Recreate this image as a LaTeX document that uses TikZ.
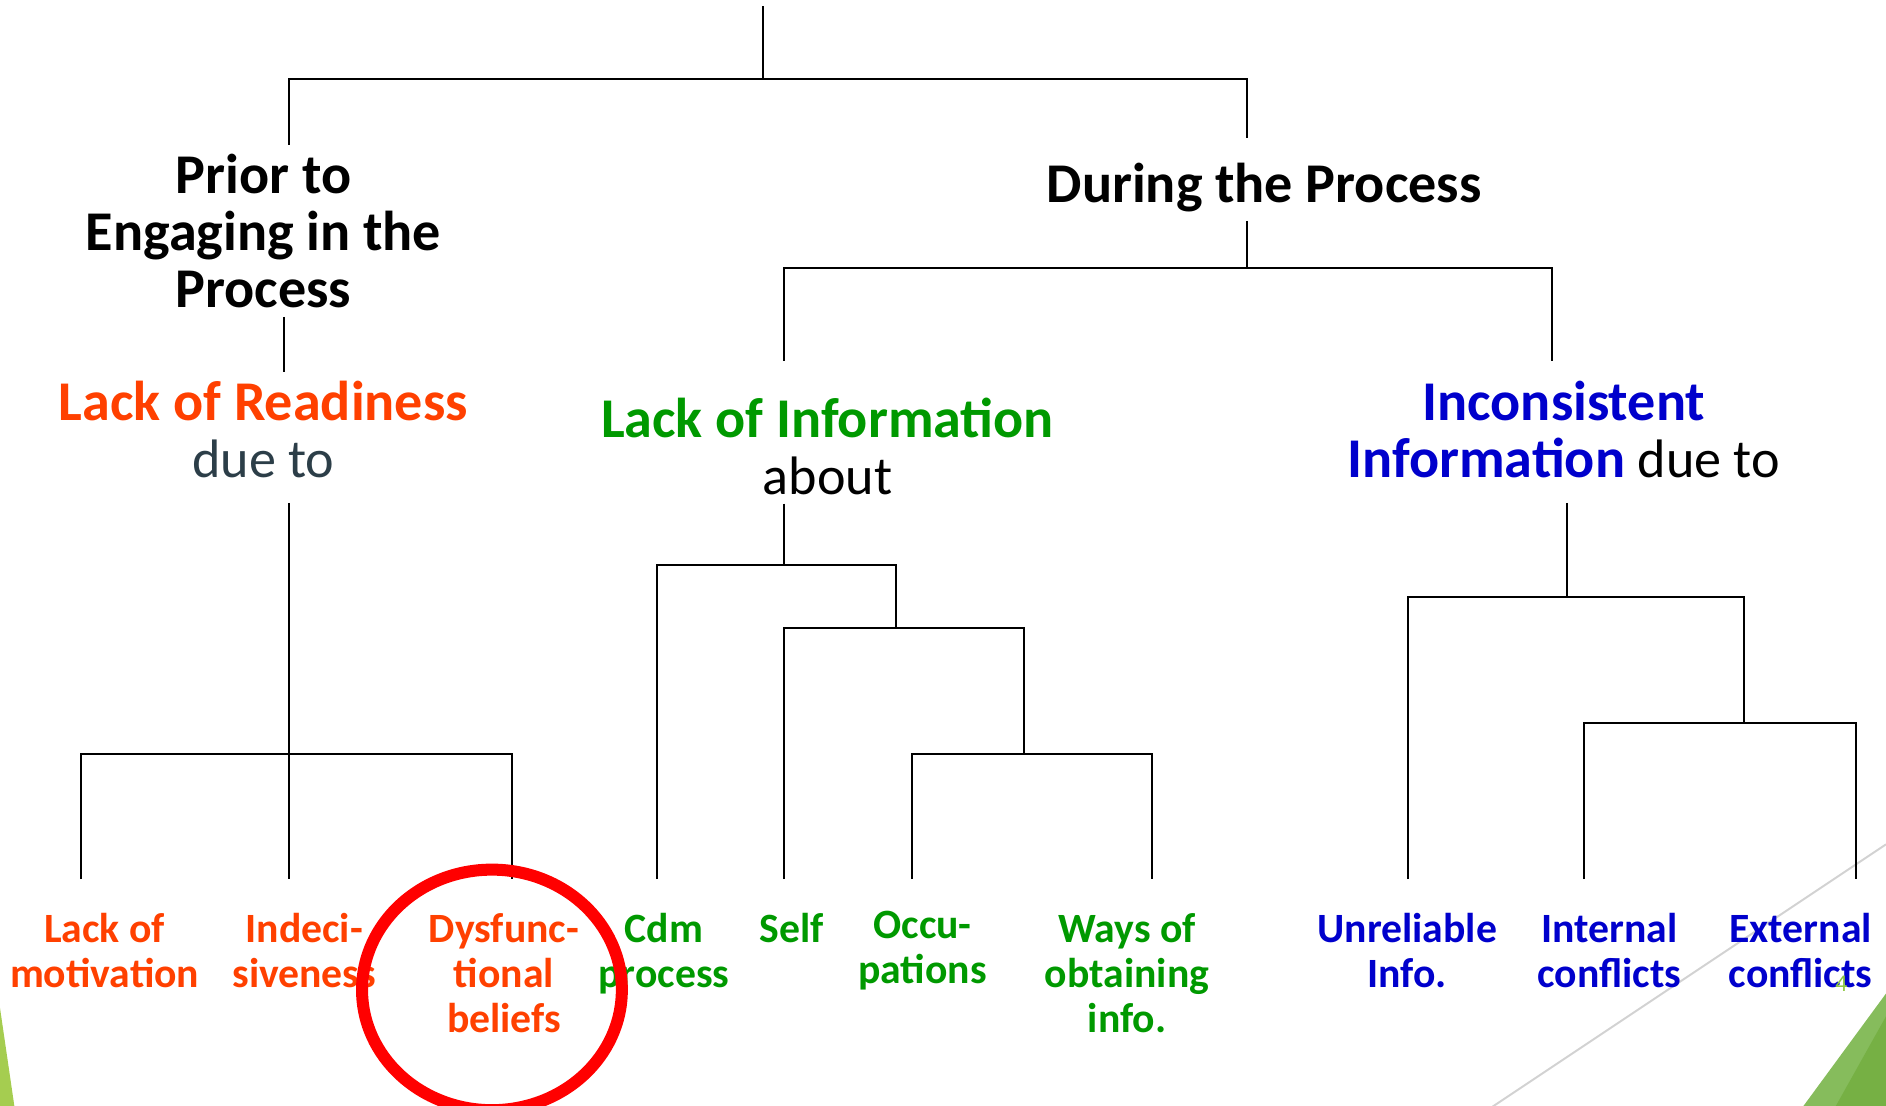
\documentclass[tikz,border=0pt]{standalone}
\usepackage{fontspec}
\setmainfont{Carlito}
\usetikzlibrary{positioning}
\definecolor{readyred}{RGB}{255,64,0}
\definecolor{infogreen}{RGB}{0,153,0}
\definecolor{infoblue}{RGB}{0,0,204}
\definecolor{slate}{RGB}{44,62,72}
\definecolor{pagegreen}{RGB}{141,198,63}
\definecolor{facetlight}{RGB}{165,205,80}
\definecolor{facetmid}{RGB}{134,188,92}
\definecolor{facetdark}{RGB}{118,176,68}
\newcommand{\lightword}[1]{{\fontsize{13.5}{14.3}\selectfont\mdseries #1}}
\tikzset{
  heading/.style={align=center,inner sep=2pt,
                  font=\fontsize{14}{14.3}\selectfont\bfseries},
  leaf/.style={align=center,anchor=north,inner sep=2pt,
               font=\fontsize{10.4}{11.25}\selectfont\bfseries},
  readyleaf/.style={leaf,text=readyred},
  infoleaf/.style={leaf,text=infogreen},
  conleaf/.style={leaf,text=infoblue},
  branch/.style={line width=0.5pt,draw=black},
  highlight/.style={draw=red,line width=3pt},
  pagenum/.style={font=\fontsize{6}{7}\selectfont,text=pagegreen,inner sep=0pt},
}
\begin{document}
\begin{tikzpicture}[x=0.3pt,y=-0.3pt]
  \useasboundingbox (0,0) rectangle (1568,919.5);
  % slide decoration
  \fill[facetlight] (0,838) -- (12,920) -- (0,920) -- cycle;
  \draw[gray!35,line width=0.5pt] (1241,920) -- (1568,702);
  \fill[facetmid] (1499,920) -- (1568,826) -- (1568,920) -- cycle;
  \fill[facetdark] (1526,920) -- (1568,845) -- (1568,920) -- cycle;

  % headings
  \node[heading] (prior)  at (219,192)  {Prior to\\Engaging in the\\Process};
  \node[heading] (during) at (1051,156) {During the Process};
  \node[heading] (rdy)    at (219,357)
    {{\color{readyred}Lack of Readiness}\\\lightword{\color{slate}due to}};
  \node[heading] (linfo)  at (688,371)
    {{\color{infogreen}Lack of Information}\\\lightword{about}};
  \node[heading] (incons) at (1300,357)
    {{\color{infoblue}Inconsistent}\\{\color{infoblue}Information} \lightword{due to}};

  % leaves
  \node[readyleaf] (motiv)  at (87,752)   {Lack of\\motivation};
  \node[readyleaf] (indec)  at (253,752)  {Indeci-\\siveness};
  \node[readyleaf] (dysf)   at (419,752)  {Dysfunc-\\tional\\beliefs};
  \node[infoleaf]  (cdm)    at (552,752)  {Cdm\\process};
  \node[infoleaf]  (self)   at (658,752)  {Self};
  \node[infoleaf]  (occu)   at (767,750)  {Occu-\\pations};
  \node[infoleaf]  (ways)   at (937,752)  {Ways of\\obtaining\\info.};
  \node[conleaf]   (unrel)  at (1170,752) {Unreliable\\Info.};
  \node[conleaf]   (intern) at (1338,752) {Internal\\conflicts};
  \node[conleaf]   (extern) at (1497,752) {External\\conflicts};
  \node[pagenum]   (pnum)   at (1531,818) {4};

  % branch points
  \coordinate (root)     at (634,5);
  \coordinate (rootbar)  at (634,66);
  \coordinate (pl)       at (240,66);
  \coordinate (pr)       at (1037,66);
  \coordinate (pd)       at (236,0);
  \coordinate (rbar)     at (240,627);
  \coordinate (dbar)     at (1037,223);
  \coordinate (linfo-t)  at (652,300);
  \coordinate (incons-t) at (1290,300);
  \coordinate (lbar)     at (652,470);
  \coordinate (sub1)     at (745,522);
  \coordinate (sub2)     at (851,627);
  \coordinate (ibar)     at (1303,496);
  \coordinate (isub)     at (1450,601);
  % stems above the leaves
  \coordinate (motiv-s)  at (67,731);
  \coordinate (indec-s)  at (240,731);
  \coordinate (dysf-s)   at (426,731);
  \coordinate (cdm-s)    at (546,731);
  \coordinate (self-s)   at (652,731);
  \coordinate (occu-s)   at (758,731);
  \coordinate (ways-s)   at (958,731);
  \coordinate (unrel-s)  at (1171,731);
  \coordinate (intern-s) at (1317,731);
  \coordinate (extern-s) at (1543,731);

  % branches
  \draw[branch] (root) -- (rootbar);
  \draw[branch,shorten >=4pt] (prior.north -| pl) |- (pr) -- (during.north -| pr);
  \draw[branch] (prior.south -| pd) -- (rdy.north -| pd);
  \draw[branch,shorten <=4pt] (rdy.south -| rbar) -- (indec-s);
  \draw[branch] (motiv-s) |- (rbar) -| (dysf-s);
  \draw[branch] (during.south -| pr) -- (dbar);
  \draw[branch] (linfo-t) |- (dbar) -| (incons-t);
  \draw[branch] (linfo.south -| lbar) -- (lbar);
  \draw[branch] (cdm-s) |- (lbar) -| (sub1);
  \draw[branch] (self-s) |- (sub1) -| (sub2);
  \draw[branch] (occu-s) |- (sub2) -| (ways-s);
  \draw[branch,shorten <=4pt] (incons.south -| ibar) -- (ibar);
  \draw[branch] (unrel-s) |- (ibar) -| (isub);
  \draw[branch] (intern-s) |- (isub) -| (extern-s);

  % circled item
  \draw[highlight] (409,823) ellipse [x radius=32.4pt,y radius=30pt];
\end{tikzpicture}
\end{document}
